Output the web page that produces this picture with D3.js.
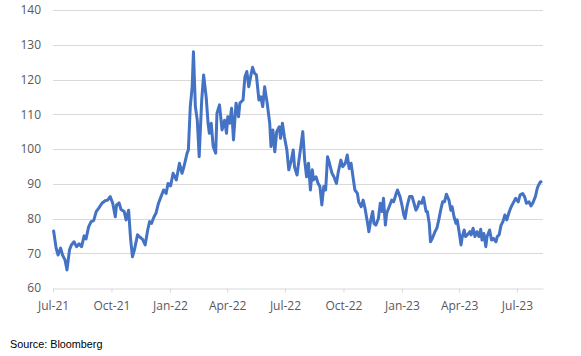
<!DOCTYPE html>
<html>
<head>
<meta charset="utf-8">
<script src="https://cdn.jsdelivr.net/npm/d3@7"></script>
<style>
  html, body { margin: 0; padding: 0; background: #ffffff; }
  svg { display: block; }
</style>
</head>
<body>
<svg id="chart" width="581" height="356"></svg>
<script>
// ---- Data ----
const dates = [
  "2021-07-02","2021-07-06","2021-07-09","2021-07-13","2021-07-16","2021-07-20","2021-07-23","2021-07-27","2021-07-30",
  "2021-08-03","2021-08-07","2021-08-11","2021-08-15","2021-08-19","2021-08-22","2021-08-26","2021-08-30",
  "2021-09-03","2021-09-07","2021-09-11","2021-09-16","2021-09-21","2021-09-25","2021-09-29",
  "2021-10-03","2021-10-07","2021-10-09","2021-10-13","2021-10-16","2021-10-21","2021-10-24","2021-10-28","2021-10-31",
  "2021-11-03","2021-11-06","2021-11-11","2021-11-15","2021-11-19","2021-11-23","2021-11-27","2021-11-30",
  "2021-12-03","2021-12-07","2021-12-10","2021-12-14","2021-12-18","2021-12-22","2021-12-26","2021-12-29",
  "2022-01-02","2022-01-06","2022-01-11","2022-01-16","2022-01-20","2022-01-23","2022-01-28","2022-01-30",
  "2022-02-02","2022-02-05","2022-02-07","2022-02-10","2022-02-13","2022-02-16","2022-02-20","2022-02-23","2022-02-27",
  "2022-03-02","2022-03-04","2022-03-07","2022-03-10","2022-03-14","2022-03-16","2022-03-20","2022-03-24","2022-03-28","2022-03-31",
  "2022-04-02","2022-04-05","2022-04-08","2022-04-11","2022-04-15","2022-04-19","2022-04-21","2022-04-26","2022-04-29",
  "2022-05-02","2022-05-05","2022-05-09","2022-05-11","2022-05-14","2022-05-17","2022-05-21","2022-05-24","2022-05-27","2022-05-30",
  "2022-06-03","2022-06-07","2022-06-09","2022-06-12","2022-06-15","2022-06-18","2022-06-22","2022-06-24","2022-06-27","2022-06-30",
  "2022-07-04","2022-07-07","2022-07-11","2022-07-14","2022-07-16","2022-07-20","2022-07-23","2022-07-26","2022-07-29",
  "2022-08-01","2022-08-04","2022-08-07","2022-08-10","2022-08-13","2022-08-15","2022-08-19","2022-08-22","2022-08-25","2022-08-28","2022-08-31",
  "2022-09-03","2022-09-06","2022-09-09","2022-09-13","2022-09-16","2022-09-20","2022-09-23","2022-09-27","2022-09-30",
  "2022-10-04","2022-10-07","2022-10-10","2022-10-13","2022-10-16","2022-10-19","2022-10-23","2022-10-25","2022-10-29",
  "2022-11-01","2022-11-04","2022-11-08","2022-11-10","2022-11-13","2022-11-16","2022-11-18","2022-11-21","2022-11-25","2022-11-28",
  "2022-12-01","2022-12-03","2022-12-06","2022-12-08","2022-12-12","2022-12-16","2022-12-19","2022-12-23","2022-12-25","2022-12-29",
  "2023-01-01","2023-01-04","2023-01-06","2023-01-09","2023-01-13","2023-01-17","2023-01-20","2023-01-23","2023-01-26","2023-01-28",
  "2023-02-01","2023-02-04","2023-02-08","2023-02-10","2023-02-13","2023-02-15","2023-02-18","2023-02-22","2023-02-25","2023-02-28",
  "2023-03-03","2023-03-06","2023-03-09","2023-03-12","2023-03-16","2023-03-19","2023-03-21","2023-03-24","2023-03-27","2023-03-29",
  "2023-04-01","2023-04-04","2023-04-06","2023-04-09","2023-04-11","2023-04-14","2023-04-18","2023-04-20","2023-04-23","2023-04-26","2023-04-29",
  "2023-05-02","2023-05-05","2023-05-07","2023-05-10","2023-05-13","2023-05-15","2023-05-19","2023-05-22","2023-05-25","2023-05-29","2023-05-31",
  "2023-06-03","2023-06-06","2023-06-09","2023-06-12","2023-06-15","2023-06-19","2023-06-22","2023-06-26","2023-06-29",
  "2023-07-03","2023-07-06","2023-07-10","2023-07-13","2023-07-16","2023-07-20","2023-07-23","2023-07-26","2023-07-30",
  "2023-08-02","2023-08-04","2023-08-07","2023-08-08"
];
const values = [
  76.4,71.4,69.5,71.5,69.5,68.0,65.2,71.0,72.4,
  73.3,71.9,72.7,71.9,75.0,74.1,77.6,79.1,
  79.4,82.0,83.0,84.4,85.1,85.3,86.3,
  84.4,80.5,83.9,84.5,82.6,82.0,79.6,82.4,74.3,
  69.0,70.9,75.3,74.6,74.0,72.4,76.7,79.1,
  78.6,80.5,81.5,84.4,86.3,88.2,87.2,90.1,
  89.4,93.0,91.1,95.9,93.0,94.9,98.8,99.7,
  112.2,117.9,128.0,112.2,108.3,97.8,114.1,121.3,115.0,
  107.4,104.5,107.4,100.7,98.8,110.3,112.7,105.5,108.3,104.5,
  109.3,107.4,111.7,102.6,113.2,109.3,113.2,114.1,120.8,
  122.3,117.9,121.8,123.5,121.8,121.3,114.1,115.0,112.2,117.9,
  113.2,107.4,100.7,105.5,99.2,105.0,106.4,103.1,107.4,103.6,
  99.7,94.0,96.8,99.7,94.9,92.5,96.8,100.7,105.0,
  96.8,92.0,95.9,88.2,94.0,91.1,92.0,90.1,89.2,83.9,89.2,
  88.2,97.8,95.9,93.0,92.0,90.1,93.5,96.8,94.9,
  95.9,98.3,94.4,95.9,92.0,88.2,87.2,84.8,83.4,
  85.3,82.9,78.6,76.2,79.6,82.0,78.6,78.1,80.0,84.4,
  82.0,85.8,78.1,81.5,83.4,85.3,84.8,87.2,88.2,86.3,
  83.9,81.0,80.0,83.4,86.3,86.3,84.4,82.4,83.4,84.8,
  84.4,86.1,82.0,82.0,78.6,73.3,74.3,76.2,77.2,79.6,
  82.4,84.8,84.8,87.0,85.3,82.4,83.4,80.5,78.6,79.6,
  76.2,72.4,74.8,76.7,74.8,75.3,76.2,75.3,77.2,74.8,76.2,
  74.8,76.9,73.8,75.7,71.9,74.8,76.7,73.8,74.3,73.3,74.8,
  75.3,78.1,79.1,81.0,79.6,82.0,83.4,84.8,85.8,
  84.8,86.8,87.2,86.3,84.4,84.8,83.6,84.5,86.3,
  88.7,89.6,90.6,90.6
];
const xTickDates = ["2021-07-01","2021-10-01","2022-01-01","2022-04-01","2022-07-01","2022-10-01","2023-01-01","2023-04-01","2023-07-01"];
const xDomain = ["2021-07-01","2023-08-11"];
const yTicks = [60,70,80,90,100,110,120,130,140];
const sourceText = "Source: Bloomberg";

// ---- Layout ----
const W = 581, H = 356;
const margin = { top: 10, right: 38, bottom: 68, left: 53 };
const parse = d3.timeParse("%Y-%m-%d");
const fmt = d3.timeFormat("%b-%y");

const data = dates.map((d, i) => ({ date: parse(d), value: values[i] }));

const svg = d3.select("#chart");

const x = d3.scaleTime()
  .domain(xDomain.map(parse))
  .range([margin.left, W - margin.right]);
const y = d3.scaleLinear()
  .domain([60, 140])
  .range([H - margin.bottom, margin.top]);

const gridColor = "#d9d9d9";
const labelColor = "#595959";
const font = "'Open Sans', 'Liberation Sans', sans-serif";

// Gridlines
svg.append("g")
  .selectAll("line")
  .data(yTicks.filter(t => t !== 60))
  .join("line")
  .attr("x1", margin.left)
  .attr("x2", W - margin.right)
  .attr("y1", d => Math.round(y(d)) + 0.5)
  .attr("y2", d => Math.round(y(d)) + 0.5)
  .attr("stroke", gridColor)
  .attr("stroke-width", 1);

// Y axis labels
const yAxis = d3.axisLeft(y).tickValues(yTicks).tickSize(0).tickPadding(12);
const gy = svg.append("g")
  .attr("transform", `translate(${margin.left},0)`)
  .call(yAxis);
gy.select(".domain").remove();
gy.selectAll("text")
  .attr("fill", labelColor)
  .style("font-family", font)
  .style("font-size", "12px");

// X axis
const xAxis = d3.axisBottom(x)
  .tickValues(xTickDates.map(parse))
  .tickFormat(fmt)
  .tickSizeInner(4)
  .tickSizeOuter(0)
  .tickPadding(9);
const gx = svg.append("g")
  .attr("transform", `translate(0,${Math.round(y(60)) + 0.5})`)
  .call(xAxis);
gx.select(".domain").attr("stroke", gridColor);
gx.selectAll(".tick line").attr("stroke", gridColor);
gx.selectAll("text")
  .attr("fill", labelColor)
  .style("font-family", font)
  .style("font-size", "12px");

// Line
const line = d3.line()
  .x(d => x(d.date))
  .y(d => y(d.value));
svg.append("path")
  .datum(data)
  .attr("fill", "none")
  .attr("stroke", "#4472C4")
  .attr("stroke-width", 3)
  .attr("stroke-linejoin", "round")
  .attr("stroke-linecap", "round")
  .attr("d", line);

// Source note
svg.append("text")
  .attr("x", 10)
  .attr("y", 347.5)
  .attr("fill", "#000000")
  .style("font-family", "'Liberation Sans', Arial, sans-serif")
  .style("font-size", "10.8px")
  .text(sourceText);
</script>
</body>
</html>
